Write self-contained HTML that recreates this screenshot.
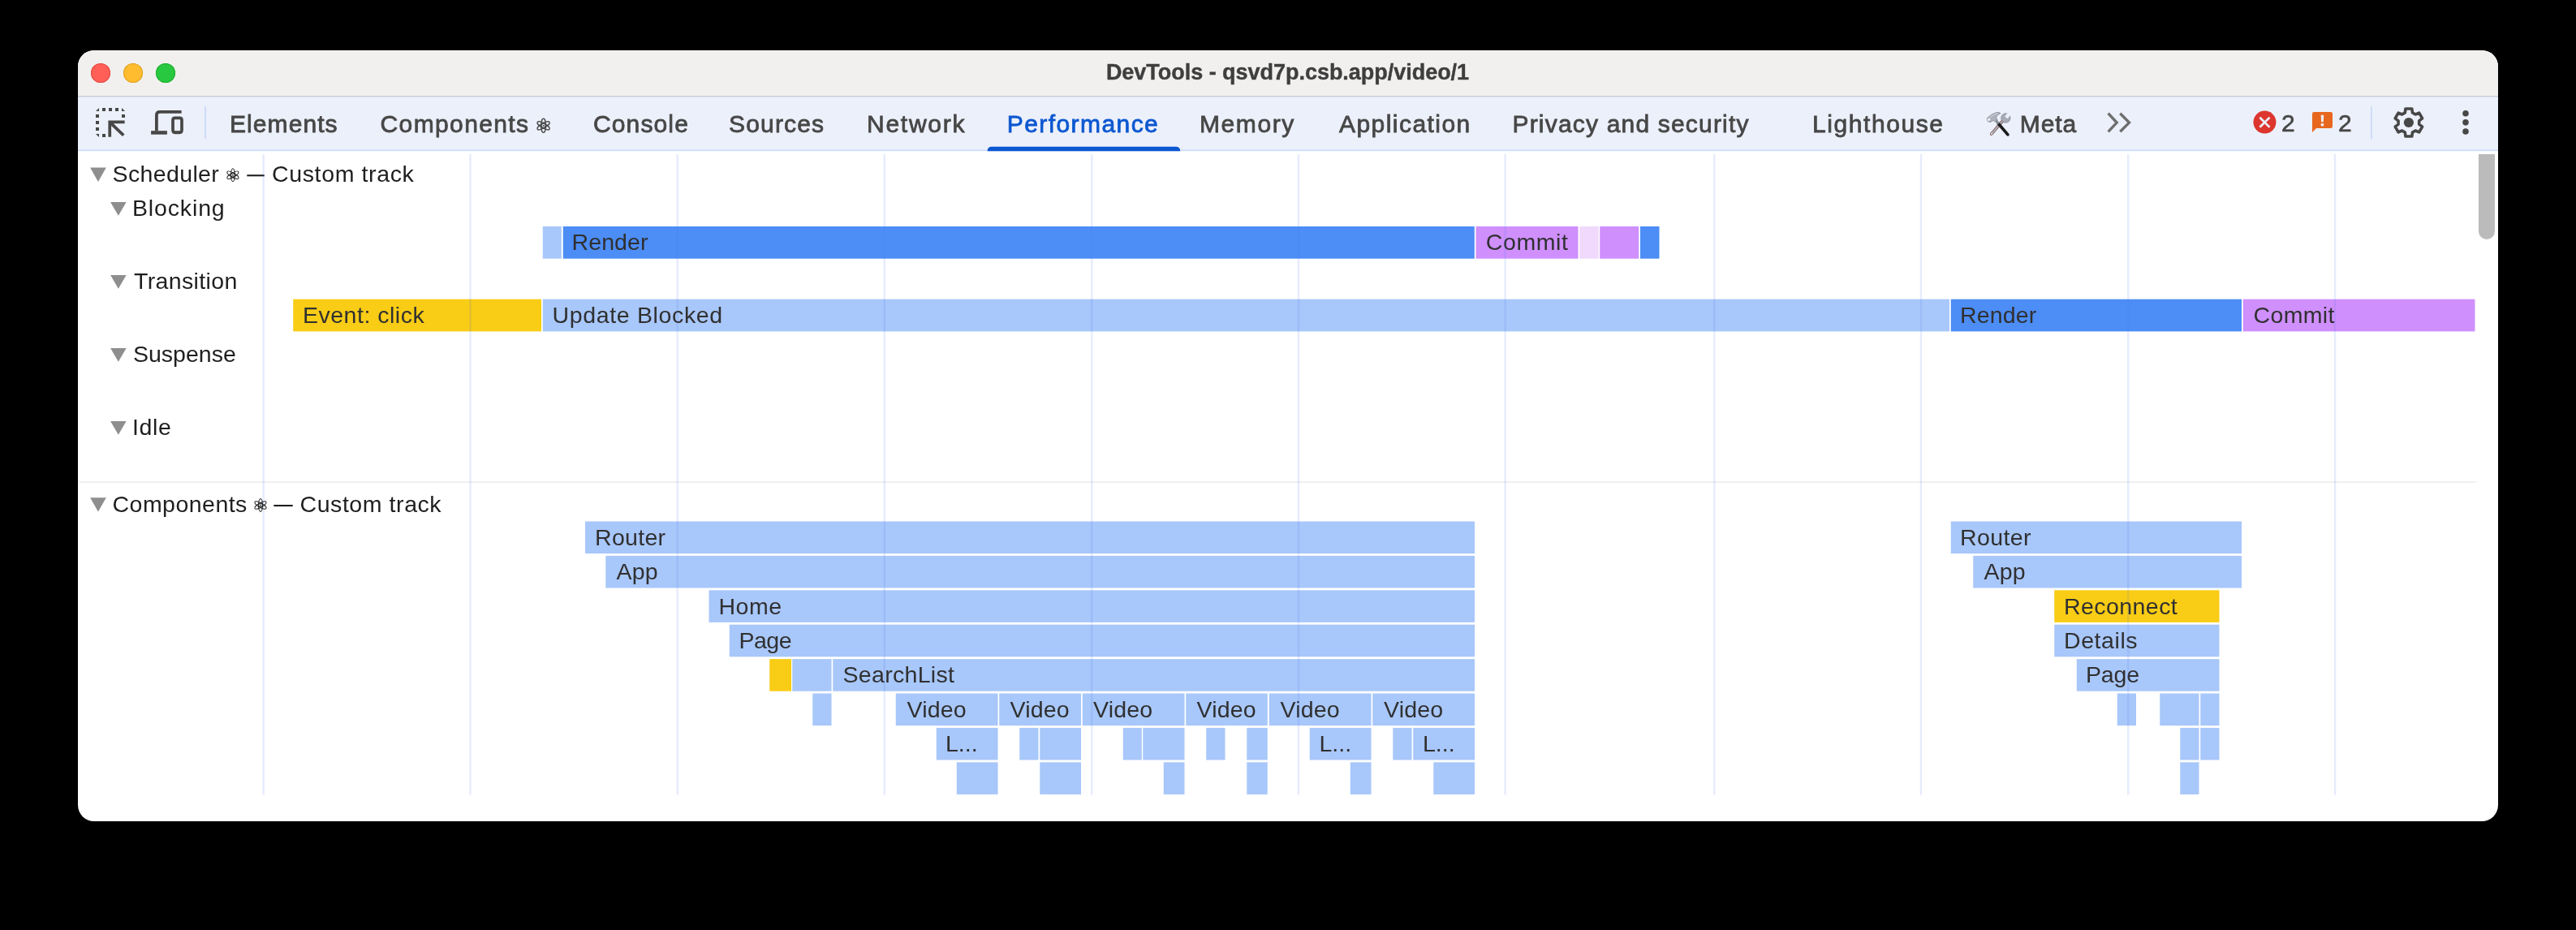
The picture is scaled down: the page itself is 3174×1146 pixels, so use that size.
<!DOCTYPE html>
<html><head><meta charset="utf-8"><title>DevTools</title>
<style>
html,body{margin:0;padding:0;background:#000;}
body{width:3174px;height:1146px;position:relative;overflow:hidden;font-family:"Liberation Sans", sans-serif;}
#win{position:absolute;left:96px;top:62px;width:2982px;height:950px;border-radius:20px;background:#fff;overflow:hidden;}
#tb{position:absolute;left:0;top:0;width:100%;height:56px;background:#f1f0ee;}
#tbl{position:absolute;left:0;top:56px;width:100%;height:1px;background:#c7cbd5;border-bottom:1px solid #dfe3ed;}
#tabs{position:absolute;left:0;top:58px;width:100%;height:65px;background:#ecf0fa;}
#tabl{position:absolute;left:0;top:122px;width:100%;height:0px;}
.t{position:absolute;white-space:pre;line-height:1;}
.b{position:absolute;}
#tx{position:absolute;left:0;top:0;width:3174px;height:1146px;will-change:transform;}
.g{position:absolute;top:190px;height:789.5px;width:2px;background:rgba(76,121,237,0.17);}
.dot{position:absolute;width:24px;height:24px;border-radius:50%;top:78px;}
svg{position:absolute;overflow:visible;}
</style></head><body>
<div id="win"><div id="tb"></div><div id="tbl"></div><div id="tabs"></div><div id="tabl"></div></div>
<div class="dot" style="left:112px;background:#ff5f57;box-shadow:inset 0 0 0 1px #e14942"></div>
<div class="dot" style="left:152px;background:#febc2e;box-shadow:inset 0 0 0 1px #dfa123"></div>
<div class="dot" style="left:192px;background:#28c840;box-shadow:inset 0 0 0 1px #1dad2b"></div>
<div class="b" style="left:251.5px;top:131px;width:2px;height:39.5px;background:#cddcf8"></div>
<div class="b" style="left:2920.75px;top:131px;width:2px;height:39.5px;background:#cddcf8"></div>
<svg width="3174" height="1146" viewBox="0 0 3174 1146" style="left:0;top:0">
<rect x="668.75" y="279" width="23" height="39.7" fill="#a8c7fa"/>
<rect x="693.75" y="279" width="1123" height="39.7" fill="#4c8df6"/>
<rect x="1818.5" y="279" width="126" height="39.7" fill="#cf8ffd"/>
<rect x="1946.25" y="279" width="23.5" height="39.7" fill="#f0d9fd"/>
<rect x="1971.25" y="279" width="48" height="39.7" fill="#cf8ffd"/>
<rect x="2021" y="279" width="23.5" height="39.7" fill="#4c8df6"/>
<rect x="361.25" y="368.7" width="305.75" height="39.7" fill="#f9cc15"/>
<rect x="668.75" y="368.7" width="1733.25" height="39.7" fill="#a8c7fa"/>
<rect x="2403.75" y="368.7" width="358.25" height="39.7" fill="#4c8df6"/>
<rect x="2763.75" y="368.7" width="285.75" height="39.7" fill="#cf8ffd"/>
<rect x="721" y="642.5" width="1096" height="39.6" fill="#a8c7fa"/>
<rect x="746.25" y="684.9" width="1070.75" height="39.6" fill="#a8c7fa"/>
<rect x="873.5" y="727.3" width="943.5" height="39.6" fill="#a8c7fa"/>
<rect x="898.75" y="769.7" width="918.25" height="39.6" fill="#a8c7fa"/>
<rect x="948.25" y="812.1" width="26.75" height="39.6" fill="#f9cc15"/>
<rect x="976.25" y="812.1" width="48.25" height="39.6" fill="#a8c7fa"/>
<rect x="1026.25" y="812.1" width="790.75" height="39.6" fill="#a8c7fa"/>
<rect x="1001.25" y="854.5" width="23.25" height="39.6" fill="#a8c7fa"/>
<rect x="1103.75" y="854.5" width="125.75" height="39.6" fill="#a8c7fa"/>
<rect x="1231.25" y="854.5" width="100.75" height="39.6" fill="#a8c7fa"/>
<rect x="1333.75" y="854.5" width="125.75" height="39.6" fill="#a8c7fa"/>
<rect x="1461.25" y="854.5" width="100.5" height="39.6" fill="#a8c7fa"/>
<rect x="1563.75" y="854.5" width="125.75" height="39.6" fill="#a8c7fa"/>
<rect x="1691.25" y="854.5" width="125.75" height="39.6" fill="#a8c7fa"/>
<rect x="1153.75" y="896.9" width="75.75" height="39.6" fill="#a8c7fa"/>
<rect x="1256.25" y="896.9" width="23.25" height="39.6" fill="#a8c7fa"/>
<rect x="1281.25" y="896.9" width="50.75" height="39.6" fill="#a8c7fa"/>
<rect x="1383.75" y="896.9" width="23" height="39.6" fill="#a8c7fa"/>
<rect x="1408.25" y="896.9" width="51.25" height="39.6" fill="#a8c7fa"/>
<rect x="1486.25" y="896.9" width="23.25" height="39.6" fill="#a8c7fa"/>
<rect x="1536.25" y="896.9" width="25.5" height="39.6" fill="#a8c7fa"/>
<rect x="1613.75" y="896.9" width="75.75" height="39.6" fill="#a8c7fa"/>
<rect x="1716.25" y="896.9" width="23.25" height="39.6" fill="#a8c7fa"/>
<rect x="1741.25" y="896.9" width="75.75" height="39.6" fill="#a8c7fa"/>
<rect x="1178.75" y="939.3" width="50.75" height="39.6" fill="#a8c7fa"/>
<rect x="1281.25" y="939.3" width="50.75" height="39.6" fill="#a8c7fa"/>
<rect x="1433.75" y="939.3" width="25.75" height="39.6" fill="#a8c7fa"/>
<rect x="1536.25" y="939.3" width="25.5" height="39.6" fill="#a8c7fa"/>
<rect x="1663.75" y="939.3" width="25.75" height="39.6" fill="#a8c7fa"/>
<rect x="1766.25" y="939.3" width="50.75" height="39.6" fill="#a8c7fa"/>
<rect x="2403.75" y="642.5" width="358.25" height="39.6" fill="#a8c7fa"/>
<rect x="2431.25" y="684.9" width="330.75" height="39.6" fill="#a8c7fa"/>
<rect x="2531.25" y="727.3" width="203.25" height="39.6" fill="#f9cc15"/>
<rect x="2531.25" y="769.7" width="203.25" height="39.6" fill="#a8c7fa"/>
<rect x="2558.75" y="812.1" width="175.75" height="39.6" fill="#a8c7fa"/>
<rect x="2608.75" y="854.5" width="23.25" height="39.6" fill="#a8c7fa"/>
<rect x="2661.25" y="854.5" width="48.25" height="39.6" fill="#a8c7fa"/>
<rect x="2711.25" y="854.5" width="23.25" height="39.6" fill="#a8c7fa"/>
<rect x="2686.25" y="896.9" width="23.25" height="39.6" fill="#a8c7fa"/>
<rect x="2711.25" y="896.9" width="23.25" height="39.6" fill="#a8c7fa"/>
<rect x="2686.25" y="939.3" width="23.25" height="39.6" fill="#a8c7fa"/>
<rect x="96" y="184.2" width="2982" height="2" fill="#d0dffc"/><path d="M1216.6 186.2V186.2Q1216.6 180.7 1222.1 180.7H1448.7Q1454.2 180.7 1454.2 186.2Z" fill="#0b57d0"/><rect x="97.3" y="592.9" width="2953.3" height="2.2" fill="#f0f0f0"/>
<rect x="304.3" y="215.2" width="21.4" height="2.1" fill="#1f1f1f"/><rect x="337.3" y="622" width="23.4" height="2.1" fill="#1f1f1f"/>
</svg>
<div id="tx">
<span class="t" style="left:1362.90px;top:75.90px;font-size:27px;letter-spacing:-0.028px;color:#3e3e3e;font-weight:700;-webkit-text-stroke:0.4px #3e3e3e;">DevTools - qsvd7p.csb.app/video/1</span>
<span class="t" style="left:283.00px;top:138.00px;font-size:30px;letter-spacing:1.071px;color:#474747;-webkit-text-stroke:0.8px #474747;">Elements</span>
<span class="t" style="left:468.50px;top:138.00px;font-size:30px;letter-spacing:1.389px;color:#474747;-webkit-text-stroke:0.8px #474747;">Components</span>
<span class="t" style="left:731.00px;top:138.00px;font-size:30px;letter-spacing:1.125px;color:#474747;-webkit-text-stroke:0.8px #474747;">Console</span>
<span class="t" style="left:898.00px;top:138.00px;font-size:30px;letter-spacing:1.167px;color:#474747;-webkit-text-stroke:0.8px #474747;">Sources</span>
<span class="t" style="left:1068.00px;top:138.00px;font-size:30px;letter-spacing:1.750px;color:#474747;-webkit-text-stroke:0.8px #474747;">Network</span>
<span class="t" style="left:1240.75px;top:138.00px;font-size:30px;letter-spacing:1.425px;color:#0b57d0;-webkit-text-stroke:0.8px #0b57d0;">Performance</span>
<span class="t" style="left:1478.00px;top:138.00px;font-size:30px;letter-spacing:1.600px;color:#474747;-webkit-text-stroke:0.8px #474747;">Memory</span>
<span class="t" style="left:1650.00px;top:138.00px;font-size:30px;letter-spacing:1.450px;color:#474747;-webkit-text-stroke:0.8px #474747;">Application</span>
<span class="t" style="left:1863.50px;top:138.00px;font-size:30px;letter-spacing:1.184px;color:#474747;-webkit-text-stroke:0.8px #474747;">Privacy and security</span>
<span class="t" style="left:2233.00px;top:138.00px;font-size:30px;letter-spacing:1.583px;color:#474747;-webkit-text-stroke:0.8px #474747;">Lighthouse</span>
<span class="t" style="left:2488.75px;top:138.00px;font-size:30px;letter-spacing:0.917px;color:#474747;-webkit-text-stroke:0.8px #474747;">Meta</span>
<span class="t" style="left:2811.00px;top:136.90px;font-size:30px;letter-spacing:0.000px;color:#474747;-webkit-text-stroke:0.6px #474747;">2</span>
<span class="t" style="left:2880.90px;top:136.90px;font-size:30px;letter-spacing:0.000px;color:#474747;-webkit-text-stroke:0.6px #474747;">2</span>
<span class="t" style="left:138.50px;top:199.75px;font-size:28.5px;letter-spacing:0.375px;color:#1f1f1f;">Scheduler</span>
<span class="t" style="left:335.00px;top:199.75px;font-size:28.5px;letter-spacing:0.636px;color:#1f1f1f;">Custom track</span>
<span class="t" style="left:163.00px;top:242.00px;font-size:28.5px;letter-spacing:0.857px;color:#1f1f1f;">Blocking</span>
<span class="t" style="left:165.00px;top:332.25px;font-size:28.5px;letter-spacing:0.361px;color:#1f1f1f;">Transition</span>
<span class="t" style="left:164.00px;top:422.25px;font-size:28.5px;letter-spacing:0.000px;color:#1f1f1f;">Suspense</span>
<span class="t" style="left:163.00px;top:511.75px;font-size:28.5px;letter-spacing:0.667px;color:#1f1f1f;">Idle</span>
<span class="t" style="left:138.50px;top:606.50px;font-size:28.5px;letter-spacing:0.472px;color:#1f1f1f;">Components</span>
<span class="t" style="left:369.50px;top:606.50px;font-size:28.5px;letter-spacing:0.568px;color:#1f1f1f;">Custom track</span>
<span class="t" style="left:704.50px;top:284.00px;font-size:28.5px;letter-spacing:0.100px;color:#303030;">Render</span>
<span class="t" style="left:1830.75px;top:284.00px;font-size:28.5px;letter-spacing:0.600px;color:#303030;">Commit</span>
<span class="t" style="left:373.00px;top:373.60px;font-size:28.5px;letter-spacing:0.500px;color:#303030;">Event: click</span>
<span class="t" style="left:680.50px;top:373.60px;font-size:28.5px;letter-spacing:0.654px;color:#303030;">Update Blocked</span>
<span class="t" style="left:2415.00px;top:373.60px;font-size:28.5px;letter-spacing:0.150px;color:#303030;">Render</span>
<span class="t" style="left:2776.50px;top:373.60px;font-size:28.5px;letter-spacing:0.350px;color:#303030;">Commit</span>
<span class="t" style="left:733.00px;top:647.70px;font-size:28.5px;letter-spacing:0.300px;color:#303030;">Router</span>
<span class="t" style="left:759.50px;top:690.10px;font-size:28.5px;letter-spacing:0.250px;color:#303030;">App</span>
<span class="t" style="left:885.50px;top:732.50px;font-size:28.5px;letter-spacing:0.500px;color:#303030;">Home</span>
<span class="t" style="left:910.50px;top:774.90px;font-size:28.5px;letter-spacing:-0.500px;color:#303030;">Page</span>
<span class="t" style="left:1038.50px;top:817.30px;font-size:28.5px;letter-spacing:0.306px;color:#303030;">SearchList</span>
<span class="t" style="left:1117.50px;top:859.70px;font-size:28.5px;letter-spacing:0.188px;color:#303030;">Video</span>
<span class="t" style="left:1244.50px;top:859.70px;font-size:28.5px;letter-spacing:0.188px;color:#303030;">Video</span>
<span class="t" style="left:1347.00px;top:859.70px;font-size:28.5px;letter-spacing:0.188px;color:#303030;">Video</span>
<span class="t" style="left:1474.50px;top:859.70px;font-size:28.5px;letter-spacing:0.188px;color:#303030;">Video</span>
<span class="t" style="left:1577.50px;top:859.70px;font-size:28.5px;letter-spacing:0.188px;color:#303030;">Video</span>
<span class="t" style="left:1705.00px;top:859.70px;font-size:28.5px;letter-spacing:0.188px;color:#303030;">Video</span>
<span class="t" style="left:1165.00px;top:902.10px;font-size:28.5px;letter-spacing:0.000px;color:#303030;">L...</span>
<span class="t" style="left:1625.50px;top:902.10px;font-size:28.5px;letter-spacing:0.000px;color:#303030;">L...</span>
<span class="t" style="left:1753.00px;top:902.10px;font-size:28.5px;letter-spacing:0.000px;color:#303030;">L...</span>
<span class="t" style="left:2415.00px;top:647.70px;font-size:28.5px;letter-spacing:0.400px;color:#303030;">Router</span>
<span class="t" style="left:2444.50px;top:690.10px;font-size:28.5px;letter-spacing:0.250px;color:#303030;">App</span>
<span class="t" style="left:2543.00px;top:732.50px;font-size:28.5px;letter-spacing:0.438px;color:#303030;">Reconnect</span>
<span class="t" style="left:2543.00px;top:774.90px;font-size:28.5px;letter-spacing:0.583px;color:#303030;">Details</span>
<span class="t" style="left:2570.00px;top:817.30px;font-size:28.5px;letter-spacing:-0.167px;color:#303030;">Page</span>
</div>
<svg width="3174" height="1146" viewBox="0 0 3174 1146" style="left:0;top:0">
<rect x="323.5" y="190" width="2.4" height="789.5" fill="rgba(76,121,237,0.14)"/>
<rect x="578.3" y="190" width="2.4" height="789.5" fill="rgba(76,121,237,0.14)"/>
<rect x="833.5" y="190" width="2.4" height="789.5" fill="rgba(76,121,237,0.14)"/>
<rect x="1088.6" y="190" width="2.4" height="789.5" fill="rgba(76,121,237,0.14)"/>
<rect x="1344" y="190" width="2.4" height="789.5" fill="rgba(76,121,237,0.14)"/>
<rect x="1598.8" y="190" width="2.4" height="789.5" fill="rgba(76,121,237,0.14)"/>
<rect x="1853.4" y="190" width="2.4" height="789.5" fill="rgba(76,121,237,0.14)"/>
<rect x="2111.1" y="190" width="2.4" height="789.5" fill="rgba(76,121,237,0.14)"/>
<rect x="2365.8" y="190" width="2.4" height="789.5" fill="rgba(76,121,237,0.14)"/>
<rect x="2621" y="190" width="2.4" height="789.5" fill="rgba(76,121,237,0.14)"/>
<rect x="2875.8" y="190" width="2.4" height="789.5" fill="rgba(76,121,237,0.14)"/>
</svg>
<div class="b" style="left:3054px;top:190px;width:20px;height:105px;background:#bbb;border-radius:0 0 10px 10px"></div>
<svg width="3174" height="1146" viewBox="0 0 3174 1146" style="left:0;top:0">
<g fill="#474747"><rect x="126" y="133" width="4" height="4"/><rect x="134" y="133" width="4" height="4"/><rect x="142" y="133" width="4" height="4"/><rect x="118" y="141" width="4" height="4"/><rect x="118" y="149" width="4" height="4"/><rect x="118" y="157" width="4" height="4"/><rect x="150" y="141" width="4" height="4"/><rect x="126" y="165" width="4" height="4"/><path d="M118 137L122 133V137Z"/><path d="M150 133L154 137H150Z"/><path d="M118 165H122V169Z"/><path d="M133.4 148.4H153.6V152.2H139.9L153.6 165.4L150.9 168.1L137.1 154.9V168.7H133.4Z"/></g>
<g fill="none" stroke="#474747"><path d="M223.6 137.8H196.9Q192.9 137.8 192.9 141.8V161.2" stroke-width="3.8"/><path d="M186.1 163.45H205.9" stroke-width="4.5"/><path d="M215.6 145.3H221.4Q224 145.3 224 147.9V160.3Q224 163.3 221.4 163.3H215.6Q213 163.3 213 160.3V147.9Q213 145.3 215.6 145.3Z" stroke-width="3.7"/><path d="M213 162.6H224" stroke-width="2.4"/></g>
<g fill="none" stroke="#474747" stroke-width="1.3"><ellipse cx="669.6" cy="154.8" rx="2.9" ry="8.6" transform="rotate(0 669.6 154.8)"/><ellipse cx="669.6" cy="154.8" rx="2.9" ry="8.6" transform="rotate(60 669.6 154.8)"/><ellipse cx="669.6" cy="154.8" rx="2.9" ry="8.6" transform="rotate(120 669.6 154.8)"/><circle cx="669.6" cy="154.8" r="2.7"/></g><circle cx="669.6" cy="154.8" r="1.0" fill="#474747"/>
<g fill="none" stroke="#1f1f1f" stroke-width="1.0"><ellipse cx="286.9" cy="215.7" rx="2.6" ry="8.0" transform="rotate(0 286.9 215.7)"/><ellipse cx="286.9" cy="215.7" rx="2.6" ry="8.0" transform="rotate(60 286.9 215.7)"/><ellipse cx="286.9" cy="215.7" rx="2.6" ry="8.0" transform="rotate(120 286.9 215.7)"/><circle cx="286.9" cy="215.7" r="2.4"/></g><circle cx="286.9" cy="215.7" r="0.9" fill="#1f1f1f"/>
<g fill="none" stroke="#1f1f1f" stroke-width="1.0"><ellipse cx="321.0" cy="622.5" rx="2.6" ry="8.0" transform="rotate(0 321.0 622.5)"/><ellipse cx="321.0" cy="622.5" rx="2.6" ry="8.0" transform="rotate(60 321.0 622.5)"/><ellipse cx="321.0" cy="622.5" rx="2.6" ry="8.0" transform="rotate(120 321.0 622.5)"/><circle cx="321.0" cy="622.5" r="2.4"/></g><circle cx="321.0" cy="622.5" r="0.9" fill="#1f1f1f"/>
<path d="M2597.6 139.7L2608.2 151.1L2597.6 162.3" fill="none" stroke="#6e6e6e" stroke-width="3.4" stroke-linejoin="miter"/>
<path d="M2612.3 139.7L2623.5 151.1L2612.3 162.3" fill="none" stroke="#6e6e6e" stroke-width="3.4" stroke-linejoin="miter"/>
<circle cx="2790.45" cy="150.6" r="14" fill="#dc362e"/><path d="M2784.4 144.7L2796.5 156.8M2796.5 144.7L2784.4 156.8" stroke="#ecf0fa" stroke-width="2.7" fill="none"/>
<path d="M2851.3 137.9H2871.7Q2874 137.9 2874 140.2V155.7Q2874 158 2871.7 158H2854L2849 163V140.2Q2849 137.9 2851.3 137.9Z" fill="#e8671f"/><path d="M2859.7 141.8H2863.2L2862.8 150.3H2860.1Z" fill="#ecf0fa"/><circle cx="2861.45" cy="153.7" r="1.9" fill="#ecf0fa"/>
<path d="M2971.84 133.95L2963.96 133.95L2963.35 138.82L2959.63 140.97L2955.10 139.07L2951.16 145.88L2955.08 148.85L2955.08 153.15L2951.16 156.12L2955.10 162.93L2959.63 161.03L2963.35 163.18L2963.96 168.05L2971.84 168.05L2972.45 163.18L2976.17 161.03L2980.70 162.93L2984.64 156.12L2980.72 153.15L2980.72 148.85L2984.64 145.88L2980.70 139.07L2976.17 140.97L2972.45 138.82Z" fill="none" stroke="#474747" stroke-width="3.6" stroke-linejoin="round"/><circle cx="2967.9" cy="151.0" r="6.1" fill="#474747"/>
<circle cx="3038" cy="139.7" r="3.8" fill="#474747"/><circle cx="3038" cy="150.85" r="3.8" fill="#474747"/><circle cx="3038" cy="162.0" r="3.8" fill="#474747"/>
<path d="M111.1 206.5H130.8L120.95 223.9Z" fill="#8e8e8e"/><path d="M111.1 613.2H130.8L120.95 630.6Z" fill="#8e8e8e"/><path d="M136.1 249.1H155.6L145.85 265.8Z" fill="#8e8e8e"/><path d="M136.1 339.1H155.6L145.85 355.8Z" fill="#8e8e8e"/><path d="M136.1 429.1H155.6L145.85 445.8Z" fill="#8e8e8e"/><path d="M136.1 519.1H155.6L145.85 535.8000000000001Z" fill="#8e8e8e"/>
<g><path d="M2453.70 165.11L2467.83 148.81" stroke="#7d5f5b" stroke-width="3.7" stroke-linecap="round" fill="none"/><path d="M2453.70 165.11L2467.83 148.81" stroke="#b7bac2" stroke-width="1.7" stroke-linecap="round" fill="none"/><circle cx="2454.01" cy="164.80" r="0.9" fill="#f2f4f8"/><circle cx="2471.33" cy="145.47" r="5.7" fill="#a6abb5" stroke="#7b7f88" stroke-width="0.7"/><rect x="2469.13" y="136.47" width="4.4" height="8.2" fill="#ecf0fa" transform="rotate(40 2471.33 145.47)"/><path d="M2462.01 152.07L2473.89 165.89" stroke="#1c1c1e" stroke-width="3.7" stroke-linecap="round" fill="none"/><path d="M2458.52 147.02L2462.40 152.69" stroke="#8b909a" stroke-width="3.2" fill="none"/><path d="M2448.42 145.70Q2453.47 140.42 2459.68 138.64Q2463.33 137.78 2464.96 139.72Q2462.01 140.66 2460.30 143.06L2459.45 144.93L2460.84 147.57L2458.28 150.28L2456.34 148.34L2451.92 150.67L2448.66 149.12Z" fill="#adb2bc" stroke="#767a83" stroke-width="0.7" stroke-linejoin="round"/><path d="M2451.53 144.69Q2455.80 141.04 2461.62 139.34" stroke="#d9dce3" stroke-width="0.9" fill="none"/><ellipse cx="2450.44" cy="147.41" rx="2.0" ry="1.6" fill="#eef0f5" transform="rotate(-32 2450.44 147.41)"/></g>
</svg>
</body></html>
